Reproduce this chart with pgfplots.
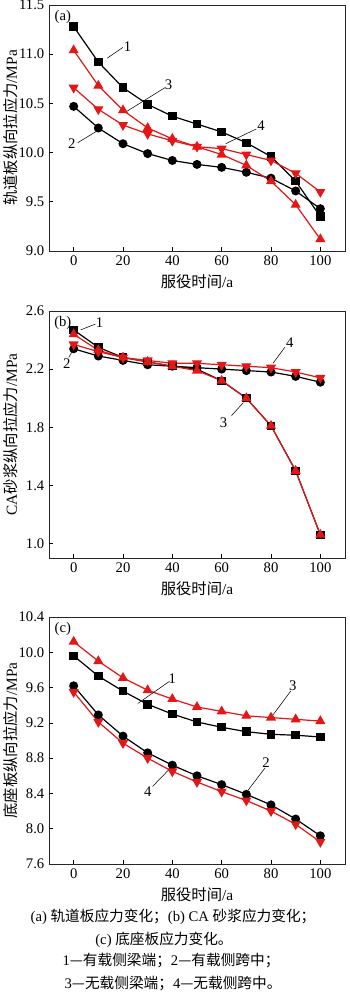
\documentclass[border=0pt]{standalone}
\usepackage{fontspec}
\setmainfont{Liberation Serif}
\newfontfamily\cjk{Noto Sans CJK SC}
\usepackage{pgfplots}
\pgfplotsset{compat=1.18}
\definecolor{mred}{RGB}{228,22,22}
\tikzset{
  lead/.style={line width=0.4pt, black},
  lab/.style={font=\fontsize{11}{13}\selectfont, inner sep=0pt},
}
\pgfplotsset{
  panel/.style={
    width=222pt, scale only axis,
    xmin=-10, xmax=110, xtick={0,20,...,100},
    tick align=inside, tick pos=left,
    major tick length=3pt,
    axis line style={line width=0.6pt, black!85},
    tick style={line width=0.5pt, black},
    ticklabel style={font=\fontsize{11}{13}\selectfont},
    /pgf/number format/assume math mode=true,
    yticklabel style={/pgf/number format/.cd, fixed, fixed zerofill, precision=1},
    label style={font=\fontsize{11.5}{13}\selectfont},
    xlabel={{\cjk 服役时间}/a},
    ylabel style={at={(axis description cs:-0.128,0.5)}, anchor=center},
    every axis plot/.append style={line width=0.9pt},
  },
  s1/.style={black, mark=square*, mark size=2.7pt, mark options={solid}},
  s2/.style={black, mark=*, mark size=2.9pt},
  s3/.style={mred, mark=triangle*, mark size=3.5pt},
  s4/.style={mred, mark=triangle*, mark size=3.5pt, mark options={rotate=180}},
}
\begin{document}
\begin{tikzpicture}
\useasboundingbox (0,0) rectangle (262.5pt,-750pt);
% ---------------- (a)
\begin{axis}[panel, at={(36.75pt,-3.75pt)}, anchor=north west, height=184.5pt,
  ymin=9.0, ymax=11.5, ytick={9.0,9.5,...,11.5},
  ylabel={{\cjk 轨道板纵向拉应力}/MPa}]
\addplot[s1] coordinates {(0,11.28)(10,10.92)(20,10.66)(30,10.49)(40,10.37)(50,10.29)(60,10.21)(70,10.10)(80,9.96)(90,9.71)(100,9.35)};
\addplot[s2] coordinates {(0,10.47)(10,10.25)(20,10.09)(30,9.99)(40,9.92)(50,9.88)(60,9.85)(70,9.80)(80,9.74)(90,9.61)(100,9.43)};
\addplot[s3] coordinates {(0,11.04)(10,10.68)(20,10.43)(30,10.25)(40,10.14)(50,10.06)(60,9.98)(70,9.87)(80,9.71)(90,9.47)(100,9.12)};
\addplot[s4] coordinates {(0,10.66)(10,10.44)(20,10.28)(30,10.19)(40,10.12)(50,10.06)(60,10.04)(70,9.98)(80,9.92)(90,9.79)(100,9.60)};
\node[lab] at (axis cs:-4.4,11.38) {(a)};
\draw[lead] (axis cs:13.6,10.96) -- (axis cs:20,11.07);
\node[lab] at (axis cs:21.8,11.08) {1};
\draw[lead] (axis cs:21.6,10.42) -- (axis cs:37,10.66);
\node[lab] at (axis cs:38.5,10.69) {3};
\draw[lead] (axis cs:1.6,10.10) -- (axis cs:10.8,10.24);
\node[lab] at (axis cs:-0.8,10.09) {2};
\draw[lead] (axis cs:61.6,10.09) -- (axis cs:74,10.24);
\node[lab] at (axis cs:76,10.27) {4};
\end{axis}
% ---------------- (b)
\begin{axis}[panel, at={(36.75pt,-233.25pt)}, anchor=north west, height=185.25pt,
  ymin=0.9, ymax=2.6, ytick={1.0,1.4,...,2.6},
  ylabel={CA{\cjk 砂浆纵向拉应力}/MPa}]
\addplot[s1] coordinates {(0,2.47)(10,2.35)(20,2.28)(30,2.25)(40,2.22)(50,2.20)(60,2.12)(70,2.00)(80,1.81)(90,1.50)(100,1.06)};
\addplot[s2] coordinates {(0,2.34)(10,2.29)(20,2.26)(30,2.23)(40,2.22)(50,2.21)(60,2.20)(70,2.19)(80,2.18)(90,2.15)(100,2.11)};
\addplot[s3] coordinates {(0,2.44)(10,2.33)(20,2.28)(30,2.25)(40,2.22)(50,2.19)(60,2.12)(70,2.00)(80,1.81)(90,1.50)(100,1.06)};
\addplot[s4] coordinates {(0,2.37)(10,2.32)(20,2.28)(30,2.26)(40,2.24)(50,2.24)(60,2.23)(70,2.22)(80,2.21)(90,2.18)(100,2.14)};
\node[lab] at (axis cs:-4.4,2.52) {(b)};
\draw[lead] (axis cs:2.8,2.47) -- (axis cs:8.8,2.51);
\node[lab] at (axis cs:10.5,2.52) {1};
\draw[lead] (axis cs:-2,2.28) -- (axis cs:0,2.34);
\node[lab] at (axis cs:-2.8,2.24) {2};
\draw[lead] (axis cs:80.8,2.24) -- (axis cs:85.6,2.35);
\node[lab] at (axis cs:87.6,2.38) {4};
\draw[lead] (axis cs:64,1.88) -- (axis cs:68.8,1.97);
\node[lab] at (axis cs:60.8,1.83) {3};
\end{axis}
% ---------------- (c)
\begin{axis}[panel, at={(36.75pt,-462.75pt)}, anchor=north west, height=185.25pt,
  ymin=7.6, ymax=10.4, ytick={7.6,8.0,...,10.4},
  ylabel={{\cjk 底座板纵向拉应力}/MPa}]
\addplot[s1] coordinates {(0,9.96)(10,9.73)(20,9.56)(30,9.41)(40,9.30)(50,9.21)(60,9.15)(70,9.10)(80,9.07)(90,9.06)(100,9.04)};
\addplot[s2] coordinates {(0,9.62)(10,9.29)(20,9.05)(30,8.86)(40,8.72)(50,8.60)(60,8.50)(70,8.39)(80,8.27)(90,8.11)(100,7.92)};
\addplot[s3] coordinates {(0,10.12)(10,9.90)(20,9.71)(30,9.57)(40,9.47)(50,9.38)(60,9.33)(70,9.28)(80,9.26)(90,9.24)(100,9.22)};
\addplot[s4] coordinates {(0,9.55)(10,9.21)(20,8.97)(30,8.80)(40,8.65)(50,8.53)(60,8.42)(70,8.32)(80,8.20)(90,8.05)(100,7.85)};
\node[lab] at (axis cs:-4.4,10.26) {(c)};
\draw[lead] (axis cs:26,9.42) -- (axis cs:38.8,9.67);
\node[lab] at (axis cs:40,9.70) {1};
\draw[lead] (axis cs:80.8,9.29) -- (axis cs:88,9.56);
\node[lab] at (axis cs:88.8,9.62) {3};
\draw[lead] (axis cs:70.8,8.44) -- (axis cs:77.6,8.69);
\node[lab] at (axis cs:78,8.75) {2};
\draw[lead] (axis cs:32,8.48) -- (axis cs:40,8.71);
\node[lab] at (axis cs:30,8.42) {4};
\end{axis}
% ---------------- caption
\begin{scope}[every node/.style={font=\fontsize{11}{13}\selectfont, inner sep=0pt}]
\node at (129.75pt,-687.75pt) {(a) {\cjk 轨道板应力变化；}(b) CA {\cjk 砂浆应力变化；}};
\node at (123pt,-705pt) {(c) {\cjk 底座板应力变化。}};
\node at (128.25pt,-720.75pt) {1{\cjk —有载侧梁端；}2{\cjk —有载侧跨中；}};
\node at (129.75pt,-738pt) {3{\cjk —无载侧梁端；}4{\cjk —无载侧跨中。}};
\end{scope}
\end{tikzpicture}
\end{document}
